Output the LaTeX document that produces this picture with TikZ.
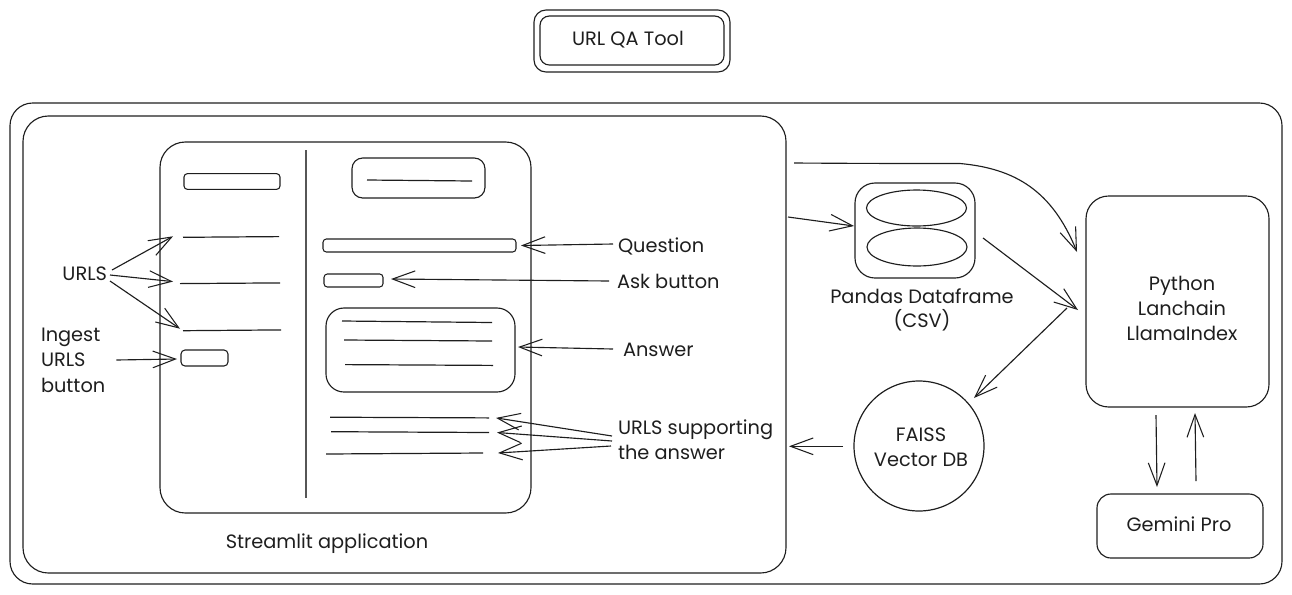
\documentclass[tikz,border=0pt]{standalone}
\usepackage{fontspec}
\setmainfont{Poppins}
\usetikzlibrary{arrows.meta,shapes.geometric}
\definecolor{ink}{HTML}{1E1E1E}
\tikzset{
  boxst/.style={draw=ink,line width=0.85pt,rectangle,inner sep=0pt,outer sep=0pt},
  thinbox/.style={boxst,line width=0.8pt},
  txt/.style={text=ink,inner sep=0pt,outer sep=0pt,align=center,font=\fontsize{14.5}{19}\selectfont},
  rule/.style={draw=ink,line width=0.9pt},
  arr/.style={draw=ink,line width=0.85pt,-{Straight Barb[length=17pt,width=12.5pt,line width=0.8pt]}},
}
\begin{document}
\begin{tikzpicture}[x=0.75pt,y=-0.75pt]
\useasboundingbox (0,0) rectangle (1292,594);
% title
\node[boxst,rounded corners=9pt,minimum width=147pt,minimum height=46.5pt] (titleouter) at (632,41) {};
\node[boxst,rounded corners=7pt,minimum width=138pt,minimum height=36.75pt] (titleinner) at (632,40.5) {};
\node[txt] (titletext) at (628,39.5) {URL QA Tool};
% frames
\node[boxst,rounded corners=17pt,minimum width=954pt,minimum height=360.75pt] (outer) at (646,343.5) {};
\node[boxst,rounded corners=19pt,minimum width=572.25pt,minimum height=342.75pt] (inner) at (404.5,344.5) {};
\node[boxst,rounded corners=19pt,minimum width=278.25pt,minimum height=278.25pt] (app) at (345.5,327.5) {};
\coordinate (diva) at (306,150);
\coordinate (divb) at (306,498);
\draw[rule,line width=1.2pt,draw=ink!75] (diva) -- (divb);
% sidebar
\node[thinbox,rounded corners=2.5pt,minimum width=72pt,minimum height=11.75pt] (sidehead) at (232,181.5) {};
\coordinate (ua) at (183,237.3); \coordinate (ub) at (279,236.6);
\coordinate (va) at (180,283.6); \coordinate (vb) at (280,282.9);
\coordinate (wa) at (183,330.7); \coordinate (wb) at (281,329.9);
\draw[rule] (ua) -- (ub);
\draw[rule] (va) -- (vb);
\draw[rule] (wa) -- (wb);
\node[thinbox,rounded corners=3pt,minimum width=35.25pt,minimum height=12pt] (ingestbox) at (204.5,358) {};
% main column
\node[boxst,rounded corners=8pt,minimum width=99.75pt,minimum height=30pt] (headbox) at (418.5,178) {};
\coordinate (ha) at (367,180); \coordinate (hb) at (472,181);
\draw[rule] (ha) -- (hb);
\node[thinbox,rounded corners=2.5pt,minimum width=144.75pt,minimum height=9.75pt] (qbox) at (419.5,245.5) {};
\node[thinbox,rounded corners=2.5pt,minimum width=44.25pt,minimum height=9.75pt] (askbox) at (353.5,280.5) {};
\node[boxst,rounded corners=13.5pt,minimum width=141.75pt,minimum height=63pt] (ansbox) at (420.5,350) {};
\coordinate (a1a) at (342,321); \coordinate (a1b) at (492,322.5);
\coordinate (a2a) at (344,340); \coordinate (a2b) at (492,341);
\coordinate (a3a) at (345,364.6); \coordinate (a3b) at (493,365.4);
\draw[rule] (a1a) -- (a1b);
\draw[rule] (a2a) -- (a2b);
\draw[rule] (a3a) -- (a3b);
\coordinate (s1a) at (330,417.2); \coordinate (s1b) at (489,417.9);
\coordinate (s2a) at (331,431.7); \coordinate (s2b) at (489,432.5);
\coordinate (s3a) at (326,454); \coordinate (s3b) at (483,453);
\draw[rule] (s1a) -- (s1b);
\draw[rule] (s2a) -- (s2b);
\draw[rule] (s3a) -- (s3b);
% labels, left
\node[txt,anchor=east] (urls) at (107,273.5) {URLS};
\node[txt,anchor=west,align=left,font=\fontsize{14.5}{19.2}\selectfont] (ingest) at (41,360) {Ingest\\URLS\\button};
\draw[arr] ([shift={(5,-3.5)}]urls.east) -- ([shift={(-10,-1)}]ua);
\draw[arr] ([shift={(3,1.5)}]urls.east) -- ([shift={(-7,-2)}]va);
\draw[arr] ([shift={(3,7.5)}]urls.east) -- ([shift={(-3,-2)}]wa);
\draw[arr] ([shift={(11,0)}]ingest.east) -- ([shift={(-4,1)}]ingestbox.west);
% labels, right of app
\node[txt,anchor=west] (question) at (618,246.5) {Question};
\node[txt,anchor=west] (askl) at (617,281.5) {Ask button};
\node[txt,anchor=west] (answer) at (623,349.5) {Answer};
\node[txt,anchor=west,align=left] (supp) at (618,440) {URLS supporting\\the answer};
\draw[arr] ([shift={(-5,-2.5)}]question.west) -- ([shift={(5,0)}]qbox.east);
\draw[arr] ([shift={(-8,-0.5)}]askl.west) -- ([shift={(8,-1.5)}]askbox.east);
\draw[arr] ([shift={(-10,-0.5)}]answer.west) -- ([shift={(3,-3)}]ansbox.east);
\draw[arr] ([shift={(-6,-4)}]supp.west) -- ([shift={(7,0)}]s1b);
\draw[arr] ([shift={(-6,1)}]supp.west) -- ([shift={(8,0)}]s2b);
\draw[arr] ([shift={(-7,6)}]supp.west) -- ([shift={(15,0)}]s3b);
\node[txt] (streamlit) at (327,544) {Streamlit application};
% pandas
\node[boxst,rounded corners=15pt,minimum width=90pt,minimum height=71.25pt] (pandas) at (915,230.5) {};
\node[draw=ink,line width=0.85pt,ellipse,inner sep=0pt,outer sep=0pt,minimum width=75pt,minimum height=27pt] (ella) at (916.5,208) {};
\node[draw=ink,line width=0.85pt,ellipse,inner sep=0pt,outer sep=0pt,minimum width=75pt,minimum height=28.5pt] (ellb) at (917,247) {};
\node[txt,font=\fontsize{14.5}{17.5}\selectfont] (pandastext) at (922,310) {Pandas Dataframe\\(CSV)};
% python, gemini, faiss
\node[boxst,rounded corners=17pt,minimum width=137.25pt,minimum height=158.25pt] (python) at (1177.5,301.5) {};
\node[txt] (pytext) at (1182,308.5) {Python\\Lanchain\\LlamaIndex};
\node[boxst,rounded corners=10.5pt,minimum width=124.5pt,minimum height=48pt] (gemini) at (1180,526) {};
\node[txt] (geminitext) at (1179,524) {Gemini Pro};
\node[draw=ink,line width=0.9pt,circle,inner sep=0pt,outer sep=0pt,minimum size=97.5pt] (faiss) at (919,446) {};
\node[txt] (faisstext) at (921,447) {FAISS\\Vector DB};
% connectors
\draw[arr] ([shift={(2,-127.5)}]inner.east) -- ([shift={(-1,-4.5)}]pandas.west);
\draw[arr] ([shift={(8,-181.5)}]inner.east) .. controls ([shift={(80,-181)}]inner.east) and ([shift={(120,-181)}]inner.east) .. ([shift={(174,-181)}]inner.east) .. controls ([shift={(229,-176)}]inner.east) and ([shift={(266,-154)}]inner.east) .. ([shift={(-9,-49.5)}]python.west);
\draw[arr] ([shift={(8,7.5)}]pandas.east) -- ([shift={(-8,8.5)}]python.west);
\draw[arr] ([shift={(-19,6.5)}]python.west) -- ([shift={(55,-48)}]faiss.center);
\draw[arr] ([shift={(-11,0.3)}]faiss.west) -- ([shift={(3,101.8)}]inner.east);
\draw[arr] ([shift={(-21.5,8)}]python.south) -- ([shift={(-23,-7)}]gemini.north);
\draw[arr] ([shift={(16,-13)}]gemini.north) -- ([shift={(17.5,6)}]python.south);
\end{tikzpicture}
\end{document}
